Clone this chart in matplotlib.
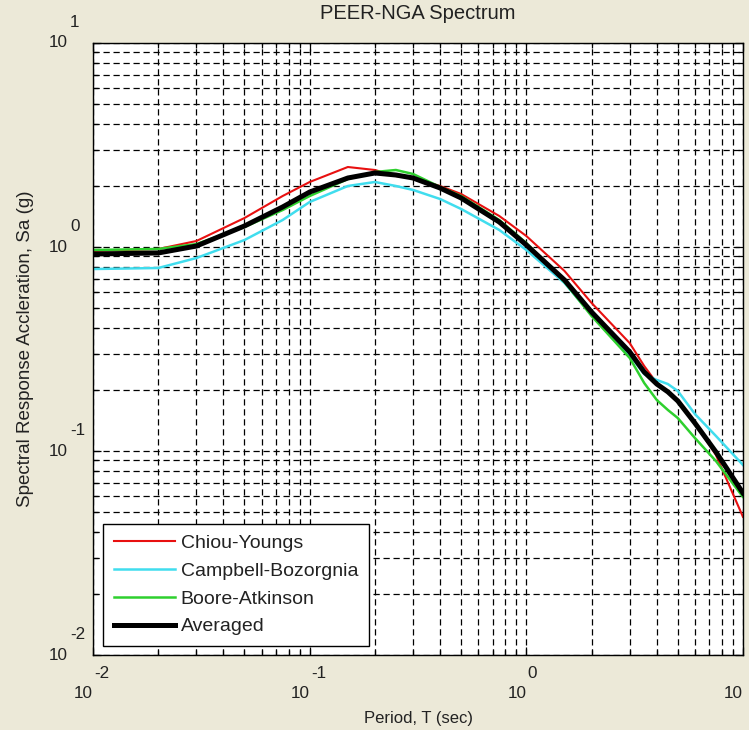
import matplotlib

matplotlib.use("Agg")
import matplotlib.pyplot as plt
from matplotlib.ticker import LogLocator, NullFormatter
import numpy as np

# Spectral acceleration (g)
PERIOD = [0.01, 0.02, 0.03, 0.05, 0.075, 0.1, 0.15, 0.2, 0.25, 0.3, 0.4, 0.5,
          0.75, 1.0, 1.5, 2.0, 3.0, 3.5, 4.0, 4.5, 5.0, 6.0, 7.5, 10.0]
SA_CY = [0.956, 0.978, 1.070, 1.387, 1.778, 2.083, 2.467, 2.385, 2.228, 2.179,
         1.991, 1.819, 1.419, 1.132, 0.763, 0.532, 0.338, 0.261, 0.2154, 0.195,
         0.176, 0.137, 0.0956, 0.0475]
SA_CB = [0.780, 0.789, 0.883, 1.082, 1.356, 1.662, 1.991, 2.083, 1.991, 1.904,
         1.719, 1.536, 1.212, 0.967, 0.666, 0.464, 0.2955, 0.238, 0.2229, 0.213,
         0.1969, 0.1518, 0.1185, 0.0854]
SA_BA = [0.967, 0.978, 1.034, 1.253, 1.518, 1.778, 2.154, 2.332, 2.385, 2.280,
         1.968, 1.778, 1.356, 1.046, 0.674, 0.459, 0.2858, 0.2154, 0.1778, 0.1589,
         0.1451, 0.1158, 0.0893, 0.0595]
SA_AVG = [0.924, 0.935, 1.011, 1.268, 1.571, 1.860, 2.179, 2.306, 2.254, 2.179,
          1.946, 1.739, 1.326, 1.023, 0.689, 0.480, 0.306, 0.244, 0.213, 0.195,
          0.176, 0.137, 0.0989, 0.0622]

X_DECADES = [-2, -1, 0, 1]
Y_DECADES = [-2, -1, 0, 1]

BG = "#ECE9D8"
TXT = "#222222"
plt.rcParams["font.family"] = ["Liberation Sans", "DejaVu Sans"]

fig = plt.figure(figsize=(7.49, 7.30), dpi=100, facecolor=BG)
ax = fig.add_axes([0.1242, 0.1027, 0.8678, 0.8384])
ax.set_facecolor("white")

ax.plot(PERIOD, SA_CY, color="#E81010", lw=1.5, label="Chiou-Youngs")
ax.plot(PERIOD, SA_CB, color="#40DDEE", lw=1.8, label="Campbell-Bozorgnia")
ax.plot(PERIOD, SA_BA, color="#2ED02E", lw=1.8, label="Boore-Atkinson")
ax.plot(PERIOD, SA_AVG, color="black", lw=3.6, label="Averaged")

ax.set_xscale("log")
ax.set_yscale("log")
ax.set_xlim(1e-2, 1e1)
ax.set_ylim(1e-2, 1e1)

for axis in (ax.xaxis, ax.yaxis):
    axis.set_major_locator(LogLocator(base=10, numticks=10))
    axis.set_minor_locator(LogLocator(base=10, subs=np.arange(2, 10), numticks=10))
    axis.set_major_formatter(NullFormatter())
    axis.set_minor_formatter(NullFormatter())

ax.grid(True, which="both", color="black", lw=0.9, linestyle=(0, (5, 3)))
ax.tick_params(which="both", direction="in", top=True, right=True, width=0.9)
ax.tick_params(which="major", length=6)
ax.tick_params(which="minor", length=3.5)
for sp in ax.spines.values():
    sp.set_linewidth(1.0)

# MATLAB style "10" with raised exponent
tfs = 12.3
for d in X_DECADES:
    ax.annotate("10", xy=(10.0 ** d, 0), xycoords=("data", "axes fraction"),
                xytext=(0, -27.5), textcoords="offset points",
                ha="right", va="center", fontsize=tfs, color=TXT,
                annotation_clip=False)
    if d < X_DECADES[-1]:  # last exponent falls outside the figure
        ax.annotate(str(d), xy=(10.0 ** d, 0), xycoords=("data", "axes fraction"),
                    xytext=(1, -13.5), textcoords="offset points",
                    ha="left", va="center", fontsize=tfs, color=TXT,
                    annotation_clip=False)
for d in Y_DECADES:
    ax.annotate("10", xy=(0, 10.0 ** d), xycoords=("axes fraction", "data"),
                xytext=(-18, 0), textcoords="offset points",
                ha="right", va="center", fontsize=tfs, color=TXT,
                annotation_clip=False)
    ax.annotate(str(d), xy=(0, 10.0 ** d), xycoords=("axes fraction", "data"),
                xytext=(-16.5, 14.5), textcoords="offset points",
                ha="left", va="center", fontsize=tfs, color=TXT,
                annotation_clip=False)

ax.set_title("PEER-NGA Spectrum", fontsize=14.5, color=TXT, pad=17)
ax.set_xlabel("Period, T (sec)", fontsize=12, color=TXT, labelpad=37)
ax.set_ylabel("Spectral Response Accleration, Sa (g)", fontsize=13.5,
              color=TXT, labelpad=39)

leg = ax.legend(loc="lower left", bbox_to_anchor=(0.0154, 0.0147),
                borderaxespad=0, fontsize=14, handlelength=3.15,
                handletextpad=0.3, borderpad=0.55, labelspacing=0.52,
                fancybox=False, framealpha=1, edgecolor="black")
leg.get_frame().set_linewidth(1.0)
for t in leg.get_texts():
    t.set_color(TXT)

fig.savefig("out.png", dpi=100, facecolor=BG)
